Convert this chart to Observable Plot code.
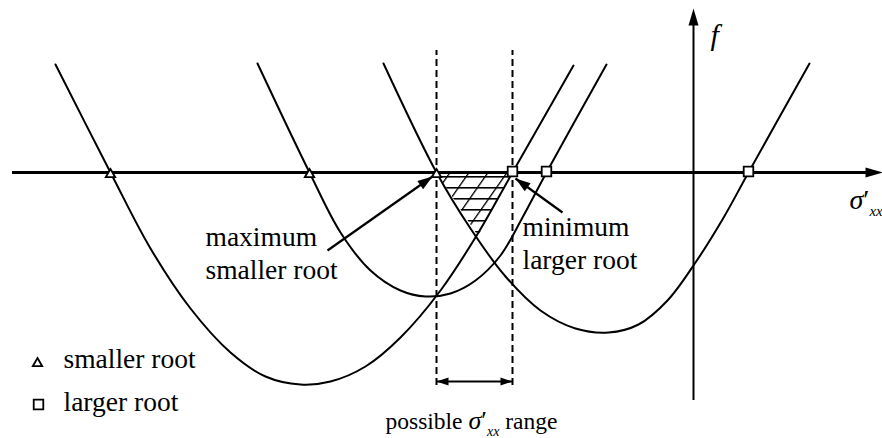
<!DOCTYPE html>
<html>
<head>
<meta charset="utf-8">
<script src="https://cdn.jsdelivr.net/npm/d3@7"></script>
<script src="https://cdn.jsdelivr.net/npm/@observablehq/plot@0.6"></script>
<style>
  body { margin: 0; background: #fff; }
  svg text { font-family: "Liberation Serif", "Times New Roman", serif; }
</style>
</head>
<body>
<div id="chart"></div>
<script>
// Yield function f against σ'xx for three candidate stress states: [σ'xx, f]
const curveA = [[-6.38, 1.08], [-5.83, 0], [-5.43, -0.76], [-5.03, -1.36], [-4.63, -1.80], [-4.28, -2.04],
  [-3.93, -2.12], [-3.63, -2.09], [-3.28, -1.94], [-2.93, -1.65], [-2.53, -1.18], [-2.15, -0.60], [-1.81, 0], [-1.20, 1.07]];
const curveB = [[-4.36, 1.09], [-3.84, 0], [-3.53, -0.60], [-3.23, -0.98], [-2.93, -1.18], [-2.68, -1.24],
  [-2.43, -1.21], [-2.18, -1.08], [-1.93, -0.83], [-1.71, -0.45], [-1.47, 0], [-0.87, 1.08]];
const curveC = [[-3.10, 1.09], [-2.57, 0], [-2.23, -0.56], [-1.88, -1.04], [-1.53, -1.38], [-1.18, -1.56],
  [-0.85, -1.60], [-0.55, -1.52], [-0.26, -1.28], [0.02, -0.90], [0.29, -0.47], [0.55, 0], [1.16, 1.09]];

// Roots of each curve (f = 0)
const smallerRoots = [-5.83, -3.84, -2.57];
const largerRoots = [-1.81, -1.47, 0.55];

// Region below the axis bounded by curve C (left branch) and curve A (right branch)
const hatchRegion = [[-2.57, 0], [-2.15, -0.64], [-1.81, 0]];

// Annotation arrows: [from σ, from f, to σ, to f]
const annotations = [[-3.66, -0.78, -2.61, -0.04], [-1.31, -0.40, -1.78, -0.06]];

const maxSmaller = d3.max(smallerRoots);
const minLarger = d3.min(largerRoots);

// Filled, narrow arrowhead with its tip at the origin, pointing at angle deg (clockwise from up)
function head(len, half, deg) {
  const a = deg * Math.PI / 180;
  const ux = Math.sin(a), uy = -Math.cos(a);
  const px = Math.cos(a), py = Math.sin(a);
  return {
    draw(ctx) {
      ctx.moveTo(0, 0);
      ctx.lineTo(-len * ux + half * px, -len * uy + half * py);
      ctx.lineTo(-len * ux - half * px, -len * uy - half * py);
      ctx.closePath();
    }
  };
}
const angleOf = ([x1, y1, x2, y2]) => Math.atan2(x2 - x1, y2 - y1) * 180 / Math.PI;

const font = "Liberation Serif";
const CAPTION = "possible σ′xx range";
const AXISLABEL = "σ′xx";

const xy = {x: d => d[0], y: d => d[1]};
const txt = {text: d => d, textAnchor: "start", lineAnchor: "bottom", fontSize: 27.5, fontFamily: font, fill: "#000"};

const chart = Plot.plot({
  width: 882,
  height: 438,
  margin: 0,
  x: {domain: [-6.93, 1.89], axis: null},
  y: {domain: [-2.66, 1.72], axis: null},
  style: {background: "#fff", color: "#000"},
  marks: [
    // hatched feasible region
    Plot.areaY(hatchRegion, {x: d => d[0], y1: d => d[1], y2: () => 0, fill: "url(#hatch)", stroke: "none"}),
    // coordinate axes
    Plot.ruleY([0], {x1: () => -6.81, x2: () => 1.78, stroke: "#000", strokeWidth: 3}),
    Plot.dot([[1.89, 0]], {...xy, symbol: head(17, 5, 90), fill: "#000", stroke: "none"}),
    Plot.ruleX([0], {y1: () => -2.28, y2: () => 1.55, stroke: "#000", strokeWidth: 2}),
    Plot.dot([[0, 1.64]], {...xy, symbol: head(17, 5, 0), fill: "#000", stroke: "none"}),
    // the three curves
    Plot.line(curveA, {...xy, curve: "catmull-rom", stroke: "#000", strokeWidth: 2}),
    Plot.line(curveB, {...xy, curve: "catmull-rom", stroke: "#000", strokeWidth: 2}),
    Plot.line(curveC, {...xy, curve: "catmull-rom", stroke: "#000", strokeWidth: 2}),
    // bounds of the admissible σ'xx range
    Plot.ruleX([maxSmaller, minLarger], {y1: () => -2.13, y2: () => 1.22, stroke: "#000", strokeWidth: 2, strokeDasharray: "7,4"}),
    Plot.link([[maxSmaller, minLarger]], {x1: d => d[0], x2: d => d[1], y1: () => -2.09, y2: () => -2.09, stroke: "#000", strokeWidth: 2}),
    Plot.dot([[maxSmaller, -2.09]], {...xy, symbol: head(12, 4, 270), fill: "#000", stroke: "none"}),
    Plot.dot([[minLarger, -2.09]], {...xy, symbol: head(12, 4, 90), fill: "#000", stroke: "none"}),
    // annotation arrows
    Plot.link(annotations, {x1: d => d[0], y1: d => d[1], x2: d => d[2], y2: d => d[3], stroke: "#000", strokeWidth: 2.2}),
    ...annotations.map(a => Plot.dot([a], {x: d => d[2], y: d => d[3], symbol: head(15, 5, angleOf(a)), fill: "#000", stroke: "none"})),
    // roots on the σ'xx axis
    Plot.dot(smallerRoots, {x: d => d, y: () => 0, dy: 2, symbol: "triangle", r: 3.5, fill: "#fff", stroke: "#000", strokeWidth: 1.8}),
    Plot.dot(largerRoots, {x: d => d, y: () => 0, dy: -1, symbol: "square", r: 5.4, fill: "#fff", stroke: "#000", strokeWidth: 1.8}),
    // legend
    Plot.dot([[-6.56, -1.91]], {...xy, symbol: "triangle", r: 3.5, fill: "#fff", stroke: "#000", strokeWidth: 1.8}),
    Plot.dot([[-6.55, -2.32]], {...xy, symbol: "square", r: 5.4, fill: "#fff", stroke: "#000", strokeWidth: 1.8}),
    Plot.text(["smaller root"], {...txt, x: () => -6.30, y: () => -1.95}),
    Plot.text(["larger root"], {...txt, x: () => -6.30, y: () => -2.38}),
    // annotation text
    Plot.text(["maximum"], {...txt, x: () => -4.88, y: () => -0.73}),
    Plot.text(["smaller root"], {...txt, x: () => -4.88, y: () => -1.06}),
    Plot.text(["minimum"], {...txt, x: () => -1.71, y: () => -0.63}),
    Plot.text(["larger root"], {...txt, x: () => -1.71, y: () => -0.96}),
    // axis labels
    Plot.text(["f"], {...txt, x: () => 0.17, y: () => 1.28, fontSize: 30, fontStyle: "italic"}),
    Plot.text([AXISLABEL], {...txt, x: () => 1.56, y: () => -0.36, fontSize: 28}),
    Plot.text([CAPTION], {...txt, x: () => -3.08, y: () => -2.56, fontSize: 23.5})
  ]
});

// hatch pattern: horizontal lines crossed by slanted lines
const svg = d3.select(chart);
svg.insert("defs", ":first-child").html(`
  <pattern id="hatch" patternUnits="userSpaceOnUse" width="19" height="11" patternTransform="skewX(-35)">
    <line x1="0" y1="0.8" x2="19" y2="0.8" stroke="#000" stroke-width="1.6"/>
    <line x1="0.8" y1="0" x2="0.8" y2="11" stroke="#000" stroke-width="1.6"/>
  </pattern>`);

// σ'xx with italic symbol, prime and subscript
function symbolic(node, before, after, symSize, subSize) {
  const t = d3.select(node).text("");
  if (before) t.append("tspan").text(before);
  t.append("tspan").attr("font-style", "italic").attr("font-size", symSize).text("σ");
  t.append("tspan").attr("font-size", symSize).text("′");
  t.append("tspan").attr("font-style", "italic").attr("font-size", subSize).attr("dy", 7).text("xx");
  if (after) t.append("tspan").attr("dy", -7).text(after);
}
svg.selectAll("text").each(function() {
  if (this.textContent === CAPTION) symbolic(this, "possible ", " range", 26, 14);
  else if (this.textContent === AXISLABEL) symbolic(this, null, null, 28, 15);
});

document.getElementById("chart").append(chart);
</script>
</body>
</html>
